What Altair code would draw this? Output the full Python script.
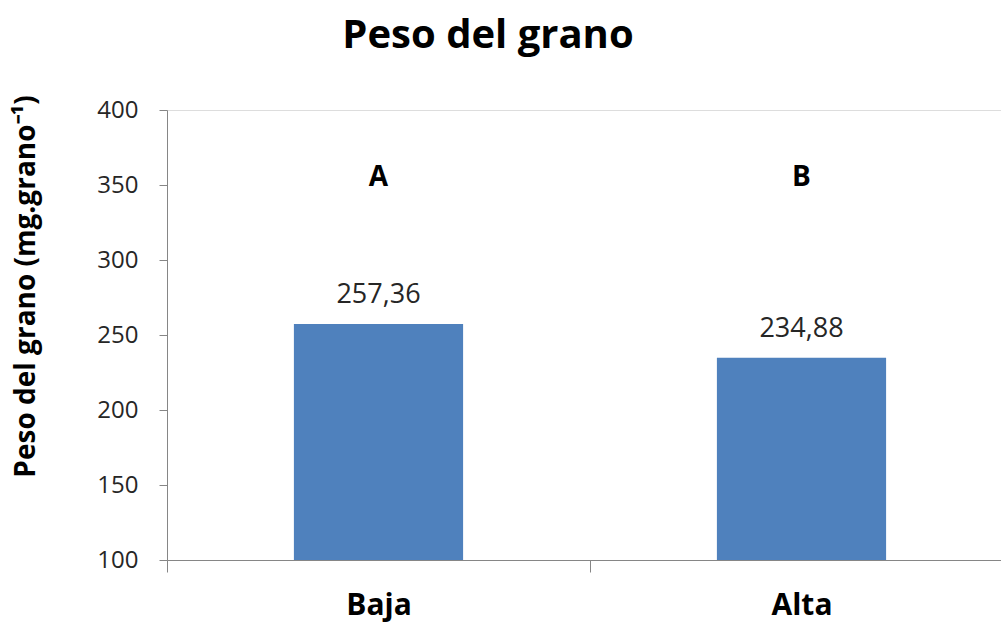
import altair as alt
import pandas as pd

# Grain weight by treatment level
categories = ["Baja", "Alta"]
weights = [257.36, 234.88]
value_labels = ["257,36", "234,88"]
letters = ["A", "B"]

df = pd.DataFrame({
    "nivel": categories,
    "peso": weights,
    "etiqueta": value_labels,
    "letra": letters,
})

FONT = "Open Sans"
AXIS_GRAY = "#868686"
TEXT = "#262626"

x_enc = alt.X(
    "nivel:N",
    sort=categories,
    title=None,
    scale=alt.Scale(range=[0, 846], paddingInner=0, paddingOuter=0),
    axis=alt.Axis(
        labelAngle=0,
        labelFont=FONT,
        labelFontSize=30,
        labelFontWeight="bold",
        labelColor="#000000",
        labelPadding=18,
        tickBand="extent",
        tickSize=12,
        tickColor=AXIS_GRAY,
        domainColor=AXIS_GRAY,
        grid=False,
    ),
)

y_scale = alt.Scale(domain=[100, 400], nice=False, zero=False)

bars = alt.Chart(df).mark_bar(
    color="#4F81BD", width=alt.RelativeBandSize(0.4), clip=True
).encode(
    x=x_enc,
    y=alt.Y(
        "peso:Q",
        scale=y_scale,
        title="Peso del grano (mg.grano⁻¹)",
        axis=alt.Axis(
            values=[100, 150, 200, 250, 300, 350, 400],
            labelFont=FONT,
            labelFontSize=24,
            labelColor=TEXT,
            labelPadding=21,
            tickSize=8,
            tickColor=AXIS_GRAY,
            domainColor=AXIS_GRAY,
            grid=False,
            titleFont=FONT,
            titleFontSize=28,
            titleFontWeight="bold",
            titleColor="#000000",
            titleAngle=270,
            titleAlign="center",
            titleBaseline="middle",
            titleX=-141,
            titleY=176,
        ),
    ),
    y2=alt.datum(100),
)

values = alt.Chart(df).mark_text(
    font=FONT, fontSize=27, color=TEXT, baseline="alphabetic", dy=-21
).encode(
    x=alt.X("nivel:N", sort=categories),
    y=alt.Y("peso:Q", scale=y_scale),
    text="etiqueta:N",
)

marks = alt.Chart(df).mark_text(
    font=FONT, fontSize=28, fontWeight="bold", color="#000000", baseline="middle"
).encode(
    x=alt.X("nivel:N", sort=categories),
    y=alt.datum(355),
    text="letra:N",
)

chart = (
    alt.layer(bars, values, marks)
    .properties(
        width=834,
        height=450,
        autosize=alt.AutoSizeParams(type="none"),
        padding={"left": 167, "top": 110, "right": 0, "bottom": 63},
        title=alt.TitleParams(
            "Peso del grano",
            font=FONT,
            fontSize=40,
            fontWeight="bold",
            color="#000000",
            anchor="middle",
            frame="group",
            baseline="alphabetic",
            offset=7,
            dx=-96,
        ),
    )
    .configure_view(stroke=None)
    .configure(background="#ffffff")
)

chart.save("out.html", embed_options={"renderer": "svg", "actions": False})
